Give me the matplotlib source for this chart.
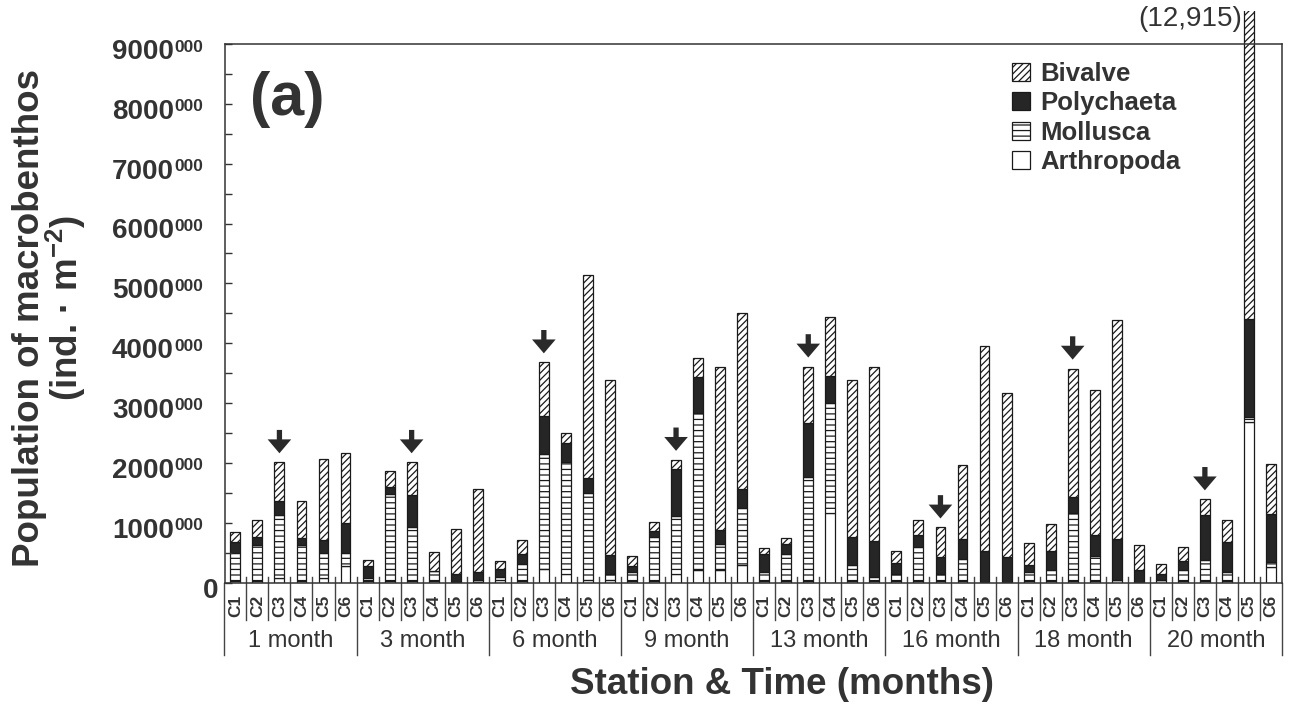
import matplotlib
matplotlib.use("Agg")
import matplotlib.pyplot as plt
from matplotlib.patches import Rectangle
from matplotlib.transforms import blended_transform_factory, offset_copy

plt.rcParams["font.family"] = ["Liberation Sans", "DejaVu Sans"]
plt.rcParams["mathtext.fontset"] = "custom"
plt.rcParams["mathtext.rm"] = "Liberation Sans"
plt.rcParams["mathtext.bf"] = "Liberation Sans:bold"
plt.rcParams["hatch.linewidth"] = 0.9
plt.rcParams["hatch.color"] = "#222222"

TXT = "#333333"

months = ["1 month", "3 month", "6 month", "9 month", "13 month", "16 month", "18 month", "20 month"]
stations = ["C1", "C2", "C3", "C4", "C5", "C6"]

# ind. / m2, six stations per sampling time
arthropoda = [20, 20, 70, 20, 70, 280,
              20, 20, 20, 20, 0, 10,
              40, 20, 220, 150, 40, 40,
              20, 20, 140, 210, 210, 300,
              30, 20, 20, 1160, 20, 30,
              20, 20, 20, 20, 0, 0,
              20, 20, 20, 20, 0, 0,
              0, 20, 20, 20, 2680, 265]
mollusca = [470, 610, 1060, 600, 420, 210,
            50, 1460, 900, 170, 10, 30,
            60, 290, 1930, 1860, 1460, 100,
            160, 745, 970, 2620, 430, 940,
            150, 455, 1735, 1840, 280, 70,
            120, 575, 120, 365, 15, 0,
            160, 190, 1135, 420, 40, 0,
            40, 190, 355, 160, 80, 80]
polychaeta = [180, 130, 240, 120, 220, 500,
              200, 120, 540, 10, 130, 130,
              130, 170, 640, 320, 240, 320,
              95, 95, 780, 610, 245, 315,
              290, 165, 910, 450, 455, 600,
              180, 200, 290, 350, 515, 430,
              110, 320, 280, 360, 680, 210,
              95, 155, 760, 500, 1640, 805]
bivalve = [170, 280, 640, 630, 1360, 1180,
           110, 270, 550, 310, 750, 1390,
           130, 230, 890, 170, 3400, 2920,
           170, 155, 160, 320, 2710, 2950,
           100, 110, 945, 990, 2630, 2900,
           205, 255, 490, 1235, 3430, 2730,
           370, 440, 2140, 2425, 3670, 420,
           170, 220, 255, 360, 8515, 835]

# station marked with an arrow in every sampling time
marked = "C3"

n = len(arthropoda)
x = list(range(n))
b1 = arthropoda
b2 = [a + m for a, m in zip(b1, mollusca)]
b3 = [a + p for a, p in zip(b2, polychaeta)]
totals = [a + b for a, b in zip(b3, bivalve)]

fig = plt.figure(figsize=(12.97, 7.13), dpi=100)
ax = fig.add_axes([225 / 1297, 1 - 582.5 / 713, 1057 / 1297, 538.5 / 713])

w = 0.45
kw = dict(width=w, edgecolor="#1a1a1a", linewidth=0.9)
r_art = ax.bar(x, arthropoda, color="white", label="Arthropoda", **kw)
r_mol = ax.bar(x, mollusca, bottom=b1, color="white", hatch="---", label="Mollusca", **kw)
r_pol = ax.bar(x, polychaeta, bottom=b2, color="#262626", label="Polychaeta", **kw)
r_biv = ax.bar(x, bivalve, bottom=b3, color="white", hatch="/////", label="Bivalve", **kw)

# let the off-scale bar run a little past the top of the frame
clip = Rectangle((-1, 0), n + 2, 9550, transform=ax.transData)
for cont in (r_art, r_mol, r_pol, r_biv):
    for p in cont:
        p.set_clip_path(clip)

ax.set_xlim(-0.47, n - 0.5)
ax.set_ylim(0, 9000)

big = max(range(n), key=lambda i: totals[i])
ax.annotate(f"({totals[big]:,})", xy=(big - w / 2 - 0.1, 1.0), xycoords=("data", "axes fraction"),
            xytext=(0, 25), textcoords="offset pixels", ha="right", va="center",
            fontsize=20, color=TXT, annotation_clip=False)

# arrows over the marked station
for i in range(n):
    if stations[i % 6] == marked:
        ax.annotate("", xy=(x[i], totals[i] + 150), xytext=(x[i], totals[i] + 540),
                    arrowprops=dict(arrowstyle="simple,head_length=0.5,head_width=0.85,tail_width=0.19",
                                    mutation_scale=20, fc="#2a2a2a", ec="none",
                                    shrinkA=0, shrinkB=0))

for s in ax.spines.values():
    s.set_color("#333333")
    s.set_linewidth(1.1)

# y axis: inward ticks, labels drawn by hand with the small trailing zeros
ax.set_yticks(range(0, 9001, 1000))
ax.set_yticks(range(500, 9000, 1000), minor=True)
ax.tick_params(axis="y", which="both", direction="in", length=5, width=1, colors="#333333",
               labelleft=False)
ax.set_xticks([])

ytr = blended_transform_factory(ax.transAxes, ax.transData)
for v in range(0, 9001, 1000):
    if v == 0:
        ax.text(0, v, "0", transform=offset_copy(ytr, fig, x=-7, y=-8, units="dots"),
                ha="right", va="center", fontsize=20, fontweight="bold", color=TXT)
    else:
        ax.text(0, v, "000", transform=offset_copy(ytr, fig, x=-22, y=-3, units="dots"),
                ha="right", va="center", fontsize=12.5, fontweight="bold", color=TXT)
        ax.text(0, v, str(v), transform=offset_copy(ytr, fig, x=-51, y=-8, units="dots"),
                ha="right", va="center", fontsize=20, fontweight="bold", color=TXT)

# station / time table under the bars
xtr = blended_transform_factory(ax.transData, ax.transAxes)
top = 5.5 / 538.5
row1 = -(620 - 582.5) / 538.5
row2 = -(655 - 582.5) / 538.5
for i in range(n):
    ax.text(x[i], -(606 - 582.5) / 538.5, stations[i % 6], transform=xtr, rotation=90,
            ha="center", va="center", fontsize=12.5, fontweight="bold", color=TXT)
for k in range(n + 1):
    xs = k - 0.5
    low = row2 if k % 6 == 0 else row1
    ax.plot([xs, xs], [top if 0 < k < n else 0, low], transform=xtr, color="#444444",
            lw=1, clip_on=False)
for g, name in enumerate(months):
    ax.text(g * 6 + 2.5, -(641 - 582.5) / 538.5, name, transform=xtr, ha="center", va="center",
            fontsize=17, color=TXT)

fig.text(782 / 1297, 1 - 684 / 713, "Station & Time (months)", ha="center", va="center",
         fontsize=26.5, fontweight="bold", color=TXT)
fig.text(30 / 1297, 1 - 318 / 713, "Population of macrobenthos", rotation=90, ha="center",
         va="center", fontsize=26.5, fontweight="bold", color=TXT)
fig.text(66 / 1297, 1 - 308 / 713, r"(ind. · m$^{\mathbf{-2}}$)", rotation=90, ha="center",
         va="center", fontsize=26.5, fontweight="bold", color=TXT)

fig.text(287 / 1297, 1 - 100 / 713, "(a)", ha="center", va="center", fontsize=44,
         fontweight="bold", color=TXT)

leg = ax.legend([r_biv, r_pol, r_mol, r_art], ["Bivalve", "Polychaeta", "Mollusca", "Arthropoda"],
                loc="upper left", bbox_to_anchor=(0.745, 0.967), frameon=False, borderpad=0,
                borderaxespad=0, handlelength=0.7, handleheight=0.7, handletextpad=0.4,
                labelspacing=0.21, prop=dict(size=18.5, weight="bold"))
for t in leg.get_texts():
    t.set_color(TXT)

fig.savefig("out.png", dpi=100)
